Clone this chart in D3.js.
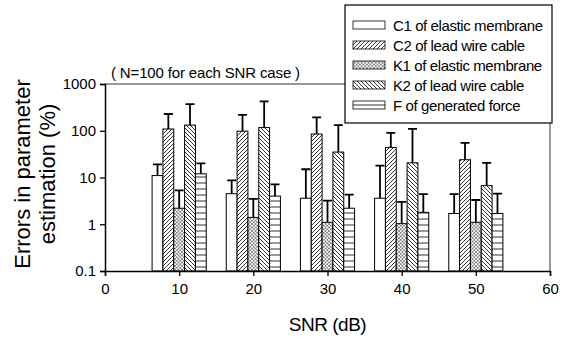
<!DOCTYPE html>
<html>
<head>
<meta charset="utf-8">
<script src="https://cdn.jsdelivr.net/npm/d3@7"></script>
<style>
  body { margin: 0; background: #fff; }
  svg { font-family: Arial, 'Liberation Sans', sans-serif; }
</style>
</head>
<body>
<svg id="chart" width="567" height="339"></svg>
<script>
// chart data
const snrLevels = [10, 20, 30, 40, 50];
const seriesNames = ['C1', 'C2', 'K1', 'K2', 'F'];
const seriesLabels = ['C1 of elastic membrane', 'C2 of lead wire cable', 'K1 of elastic membrane', 'K2 of lead wire cable', 'F of generated force'];
const meanC1 = [11, 4.5, 3.6, 3.6, 1.7];
const meanC2 = [109, 98, 85, 44, 24];
const meanK1 = [2.2, 1.4, 1.1, 1.03, 1.1];
const meanK2 = [132, 117, 35, 20.6, 6.7];
const meanF = [12, 4.0, 2.2, 1.8, 1.7];
const errTopC1 = [19, 8.7, 15, 18, 4.4];
const errTopC2 = [228, 219, 193, 90, 55];
const errTopK1 = [5.3, 3.5, 3.2, 3.0, 3.3];
const errTopK2 = [370, 425, 132, 110, 20.6];
const errTopF = [20, 7.1, 4.3, 4.4, 4.5];
const xTicks = [0, 10, 20, 30, 40, 50, 60];
const yTicks = [0.1, 1, 10, 100, 1000];

const means = [meanC1, meanC2, meanK1, meanK2, meanF];
const errTops = [errTopC1, errTopC2, errTopK1, errTopK2, errTopF];

const margin = { top: 84, right: 17, bottom: 68, left: 105 };
const width = 567 - margin.left - margin.right;
const height = 339 - margin.top - margin.bottom;

const svg = d3.select('#chart');
const defs = svg.append('defs');

// hatch patterns
function hatch(id, size, draw) {
	const p = defs.append('pattern').attr('id', id)
		.attr('patternUnits', 'userSpaceOnUse')
		.attr('width', size).attr('height', size);
	p.append('rect').attr('width', size).attr('height', size).attr('fill', '#fff');
	draw(p, size);
}
hatch('pC2', 4, (p, s) => {
	p.append('path').attr('d', `M0,${s} L${s},0 M-1,1 L1,-1 M${s - 1},${s + 1} L${s + 1},${s - 1}`)
		.attr('stroke', '#000').attr('stroke-width', 0.8);
});
hatch('pK2', 4, (p, s) => {
	p.append('path').attr('d', `M0,0 L${s},${s} M-1,${s - 1} L1,${s + 1} M${s - 1},-1 L${s + 1},1`)
		.attr('stroke', '#000').attr('stroke-width', 0.8);
});
hatch('pK1', 3.5, (p, s) => {
	p.append('path').attr('d', `M0,0 L${s},${s} M0,${s} L${s},0`)
		.attr('stroke', '#222').attr('stroke-width', 0.5);
});
hatch('pF', 6, (p, s) => {
	p.append('path').attr('d', `M0,3 L${s},3`).attr('stroke', '#000').attr('stroke-width', 0.8);
});
const fills = ['#fff', 'url(#pC2)', 'url(#pK1)', 'url(#pK2)', 'url(#pF)'];

const g = svg.append('g').attr('transform', 'translate(' + margin.left + ',' + margin.top + ')');

const x = d3.scaleLinear().domain([0, 60]).range([0, width]);
const y = d3.scaleLog().domain([0.1, 1000]).range([height, 0]);
const groupHalf = 3.65;
const sub = d3.scaleBand().domain(seriesNames).range([-groupHalf, groupHalf]).padding(0);

// frame top and right
g.append('line').attr('x1', 0).attr('x2', width).attr('y1', 0).attr('y2', 0)
	.attr('stroke', '#333').attr('stroke-width', 1);
g.append('line').attr('x1', width).attr('x2', width).attr('y1', 0).attr('y2', height)
	.attr('stroke', '#333').attr('stroke-width', 1);

// bars and error bars
seriesNames.forEach((name, si) => {
	const data = snrLevels.map((snr, i) => ({ snr, v: means[si][i], e: errTops[si][i] }));
	const bx = d => x(d.snr + sub(name));
	const bw = x(sub.bandwidth()) - x(0);

	g.selectAll('.err-' + name).data(data).enter().append('path')
		.attr('d', d => {
			const cx = bx(d) + bw / 2;
			return `M${cx},${y(d.v)} L${cx},${y(d.e)} M${cx - 4.5},${y(d.e)} L${cx + 4.5},${y(d.e)}`;
		})
		.attr('stroke', '#000').attr('stroke-width', 1.8).attr('fill', 'none');

	g.selectAll('.bar-' + name).data(data).enter().append('rect')
		.attr('x', bx)
		.attr('width', bw)
		.attr('y', d => y(d.v))
		.attr('height', d => height - y(d.v))
		.attr('fill', fills[si])
		.attr('stroke', '#000').attr('stroke-width', 1);
});

// axes
const xAxis = g.append('g').attr('transform', 'translate(0,' + height + ')')
	.call(d3.axisBottom(x).tickValues(xTicks).tickSize(5).tickPadding(7).tickFormat(d3.format('d')));
const yAxis = g.append('g')
	.call(d3.axisLeft(y).tickValues(yTicks).tickSize(5).tickPadding(4).tickFormat(d => String(d)));
[xAxis, yAxis].forEach(a => {
	a.select('.domain').attr('stroke', '#000').attr('stroke-width', 1.5);
	a.selectAll('.tick line').attr('stroke', '#000').attr('stroke-width', 1.3);
	a.selectAll('text').attr('font-size', 15).attr('fill', '#000')
		.attr('font-family', 'Arial, Liberation Sans, sans-serif');
});

// annotation
svg.append('text').attr('x', 111).attr('y', 78)
	.attr('font-size', 15).attr('letter-spacing', -0.15).text('( N=100 for each SNR case )');

// axis titles
svg.append('text').attr('x', margin.left + width / 2).attr('y', 331)
	.attr('text-anchor', 'middle').attr('font-size', 19).attr('letter-spacing', -0.5).text('SNR (dB)');
const yt = svg.append('text').attr('transform', 'translate(30,174) rotate(-90)')
	.attr('text-anchor', 'middle').attr('font-size', 22);
yt.append('tspan').attr('x', 0).attr('y', 0).text('Errors in parameter');
yt.append('tspan').attr('x', 0).attr('y', 25).text('estimation (%)');

// legend
const legend = svg.append('g').attr('transform', 'translate(345,5)');
legend.append('rect').attr('width', 207).attr('height', 118)
	.attr('fill', '#fff').attr('stroke', '#000').attr('stroke-width', 1.2);
const items = legend.selectAll('.item').data(seriesNames).enter().append('g')
	.attr('transform', (d, i) => 'translate(8,' + (16 + i * 20) + ')');
items.append('rect').attr('width', 32).attr('height', 8)
	.attr('fill', (d, i) => i === 4 ? '#fff' : fills[i])
	.attr('stroke', '#000').attr('stroke-width', 0.8);
items.filter((d, i) => i === 4).append('line')
	.attr('x1', 0).attr('x2', 32).attr('y1', 4).attr('y2', 4).attr('stroke', '#000').attr('stroke-width', 0.8);
items.append('text').attr('x', 40).attr('y', 9.5)
	.attr('font-size', 15).attr('letter-spacing', -0.4)
	.text((d, i) => seriesLabels[i]);
</script>
</body>
</html>
